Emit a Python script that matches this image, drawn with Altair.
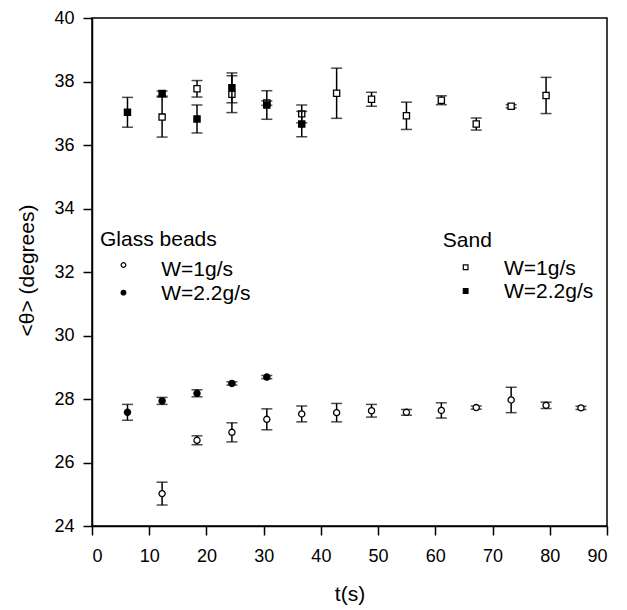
import altair as alt
import pandas as pd

# ---- data ----
t_glass_1 = [12.25, 18.35, 24.45, 30.55, 36.65, 42.75, 48.85, 54.95, 61.05, 67.15, 73.25, 79.35, 85.45]
m_glass_1 = [25.02, 26.70, 26.95, 27.36, 27.53, 27.57, 27.63, 27.58, 27.64, 27.73, 27.97, 27.80, 27.72]
e_glass_1 = [0.36, 0.14, 0.30, 0.33, 0.25, 0.29, 0.20, 0.09, 0.24, 0.05, 0.40, 0.10, 0.05]

t_glass_2 = [6.2, 12.25, 18.35, 24.45, 30.55]
m_glass_2 = [27.58, 27.94, 28.18, 28.49, 28.69]
e_glass_2 = [0.25, 0.11, 0.11, 0.05, 0.05]

t_sand_1 = [12.25, 18.35, 24.45, 30.55, 36.65, 42.75, 48.85, 54.95, 61.05, 67.15, 73.25, 79.35]
m_sand_1 = [36.88, 37.77, 37.60, 37.32, 36.98, 37.63, 37.44, 36.92, 37.41, 36.66, 37.22, 37.56]
e_sand_1 = [0.63, 0.26, 0.58, 0.07, 0.28, 0.79, 0.22, 0.43, 0.14, 0.19, 0.05, 0.57]

t_sand_2 = [6.2, 12.25, 18.35, 24.45, 30.55, 36.65]
m_sand_2 = [37.03, 37.62, 36.82, 37.80, 37.26, 36.66]
e_sand_2 = [0.47, 0.08, 0.44, 0.47, 0.45, 0.40]

x_ticks = [0, 10, 20, 30, 40, 50, 60, 70, 80, 90]
y_ticks = [24, 26, 28, 30, 32, 34, 36, 38, 40]

# in-plot legend (data coordinates)
leg_titles = ["Glass beads", "Sand"]
leg_title_x = [1.4, 61.3]
leg_title_y = [32.82, 32.79]
leg_labels = ["W=1g/s", "W=2.2g/s", "W=1g/s", "W=2.2g/s"]
leg_label_x = [12.1, 12.1, 72.0, 72.0]
leg_label_y = [31.88, 31.12, 31.89, 31.17]
leg_mark_x = [5.5, 5.5, 65.3, 65.3]
leg_mark_y = [32.22, 31.35, 32.15, 31.40]

FONT = "Liberation Sans"

x_scale = alt.Scale(domain=[0, 90], nice=False, zero=False)
y_scale = alt.Scale(domain=[24, 40], nice=False, zero=False)

common_axis = dict(grid=False, domainColor="black", domainWidth=1.5, tickColor="black",
                   tickWidth=1.5, tickSize=9, labelFontSize=18, labelFont=FONT,
                   titleFont=FONT, labelColor="black", titleColor="black",
                   titleFontSize=21, titleFontWeight="normal", format="d")

x_axis = alt.Axis(values=x_ticks, title="t(s)", titleY=68, titleBaseline="middle",
                  labelPadding=12, **common_axis)
y_axis = alt.Axis(values=y_ticks, title="<θ> (degrees)", titleX=-65, titleY=252,
                  titleBaseline="middle", titleAngle=270, labelPadding=9, **common_axis)


def make_df(t, m, e):
    return pd.DataFrame({
        "t": t, "mean": m,
        "lo": [a - b for a, b in zip(m, e)],
        "hi": [a + b for a, b in zip(m, e)],
    })


series = [
    (make_df(t_glass_1, m_glass_1, e_glass_1), "circle", False),
    (make_df(t_glass_2, m_glass_2, e_glass_2), "circle", True),
    (make_df(t_sand_1, m_sand_1, e_sand_1), "square", False),
    (make_df(t_sand_2, m_sand_2, e_sand_2), "square", True),
]

layers = []
for df, shape, filled in series:
    base = alt.Chart(df)
    rule = base.mark_rule(color="black", strokeWidth=1.5).encode(
        x=alt.X("t:Q", scale=x_scale, axis=x_axis),
        y=alt.Y("lo:Q", scale=y_scale, axis=y_axis),
        y2="hi:Q",
    )
    cap_lo = base.mark_tick(orient="horizontal", size=11, thickness=1.5, color="black").encode(
        x=alt.X("t:Q", scale=x_scale, axis=x_axis),
        y=alt.Y("lo:Q", scale=y_scale, axis=y_axis),
    )
    cap_hi = base.mark_tick(orient="horizontal", size=11, thickness=1.5, color="black").encode(
        x=alt.X("t:Q", scale=x_scale, axis=x_axis),
        y=alt.Y("hi:Q", scale=y_scale, axis=y_axis),
    )
    pts = base.mark_point(shape=shape, size=38, filled=True,
                          fill="black" if filled else "white",
                          stroke="black", strokeWidth=1.3, opacity=1).encode(
        x=alt.X("t:Q", scale=x_scale, axis=x_axis),
        y=alt.Y("mean:Q", scale=y_scale, axis=y_axis),
    )
    layers += [rule, cap_lo, cap_hi, pts]

# legend
title_df = pd.DataFrame({"x": leg_title_x, "y": leg_title_y, "txt": leg_titles})
label_df = pd.DataFrame({"x": leg_label_x, "y": leg_label_y, "txt": leg_labels})
mark_df = pd.DataFrame({"x": leg_mark_x, "y": leg_mark_y,
                        "shape": ["circle", "circle", "square", "square"],
                        "fill": ["white", "black", "white", "black"]})

leg_title = alt.Chart(title_df).mark_text(align="left", baseline="alphabetic", fontSize=21,
                                          font=FONT, color="black").encode(
    x=alt.X("x:Q", scale=x_scale, axis=x_axis),
    y=alt.Y("y:Q", scale=y_scale, axis=y_axis),
    text="txt:N",
)
leg_label = alt.Chart(label_df).mark_text(align="left", baseline="alphabetic", fontSize=21,
                                          font=FONT, color="black").encode(
    x=alt.X("x:Q", scale=x_scale, axis=x_axis),
    y=alt.Y("y:Q", scale=y_scale, axis=y_axis),
    text="txt:N",
)
leg_marks = alt.Chart(mark_df).mark_point(size=22, filled=True, stroke="black",
                                          strokeWidth=1.2, opacity=1).encode(
    x=alt.X("x:Q", scale=x_scale, axis=x_axis),
    y=alt.Y("y:Q", scale=y_scale, axis=y_axis),
    shape=alt.Shape("shape:N", scale=None),
    fill=alt.Fill("fill:N", scale=None),
)
layers += [leg_title, leg_label, leg_marks]

chart = alt.layer(*layers).properties(
    width=515, height=508,
    background="white",
    autosize=alt.AutoSizeParams(type="none"),
    padding={"left": 84, "top": 10, "right": 12, "bottom": 80},
).configure_view(
    stroke="black", strokeWidth=1.5
)

chart.save("out.html", embed_options={"renderer": "svg", "actions": False})
